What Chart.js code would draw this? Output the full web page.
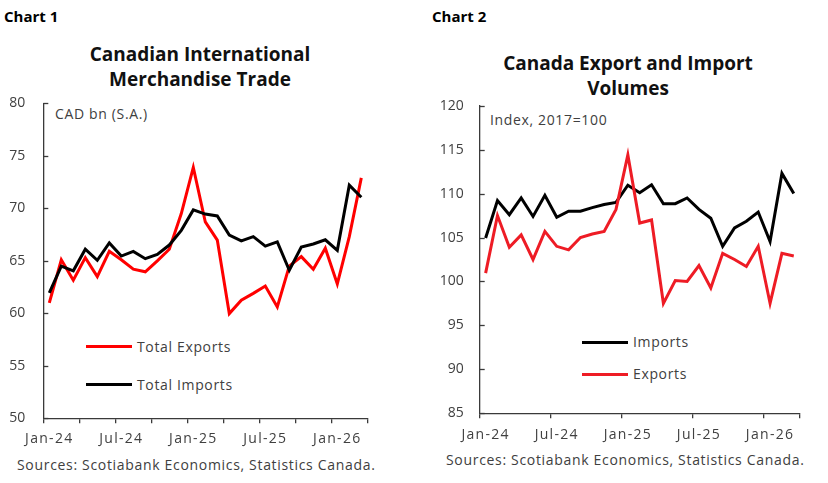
<!DOCTYPE html>
<html>
<head>
<meta charset="utf-8">
<script src="https://cdn.jsdelivr.net/npm/chart.js@4"></script>
<style>
  html, body { margin: 0; padding: 0; background: #fff; }
  body { width: 828px; height: 483px; position: relative; overflow: hidden; font-family: "Open Sans", sans-serif; }
  canvas { position: absolute; top: 0; }
  .t { position: absolute; white-space: nowrap; }
  .hdr { font-weight: bold; font-size: 15px; color: #000; height: 20px; line-height: 20px; }
  .title { font-weight: bold; font-size: 19px; color: #111; text-align: center; line-height: 25px; }
  .lbl { font-size: 14px; color: #404040; height: 18px; line-height: 18px; letter-spacing: 0.65px; }
  .src { font-size: 14px; color: #404040; height: 18px; line-height: 18px; letter-spacing: 0.68px; }
  .leg { position: absolute; height: 3px; }
</style>
</head>
<body>
<div class="t hdr" style="left:4px; top:6px;">Chart 1</div>
<div class="t hdr" style="left:432px; top:6px;">Chart 2</div>
<div class="t title" style="left:0px; width:400px; top:42px;">Canadian International<br>Merchandise Trade</div>
<div class="t title" style="left:428px; width:400px; top:51px;">Canada Export and Import<br>Volumes</div>
<div class="t lbl" style="left:55px; top:105px;">CAD bn (S.A.)</div>
<div class="t lbl" style="left:490px; top:111px;">Index, 2017=100</div>

<div class="leg" style="left:86px; width:46px; top:345px; background:#ff0000;"></div>
<div class="t lbl" style="left:137px; top:338px;">Total Exports</div>
<div class="leg" style="left:86px; width:46px; top:383px; background:#000;"></div>
<div class="t lbl" style="left:137px; top:376px;">Total Imports</div>

<div class="leg" style="left:582px; width:46px; top:341px; background:#000;"></div>
<div class="t lbl" style="left:633px; top:333px;">Imports</div>
<div class="leg" style="left:582px; width:46px; top:373px; background:#ee1c25;"></div>
<div class="t lbl" style="left:633px; top:365px;">Exports</div>

<div class="t src" style="left:17px; top:456px;">Sources: Scotiabank Economics, Statistics Canada.</div>
<div class="t src" style="left:446px; top:451px;">Sources: Scotiabank Economics, Statistics Canada.</div>

<canvas id="c1" width="414" height="483" style="left:0px;"></canvas>
<canvas id="c2" width="414" height="483" style="left:414px;"></canvas>

<script>
// ---- Data ----
const months = ["Jan-24","Feb-24","Mar-24","Apr-24","May-24","Jun-24","Jul-24","Aug-24","Sep-24","Oct-24","Nov-24","Dec-24",
                "Jan-25","Feb-25","Mar-25","Apr-25","May-25","Jun-25","Jul-25","Aug-25","Sep-25","Oct-25","Nov-25","Dec-25",
                "Jan-26","Feb-26","Mar-26"];

// Chart 1: CAD bn (S.A.)
const totalExports = [61.0, 65.1, 63.15, 65.3, 63.5, 65.9, 65.1, 64.2, 63.95, 65.0, 66.1, 69.5,
                      73.9, 68.7, 66.97, 59.97, 61.25, 61.9, 62.6, 60.6, 64.5, 65.4, 64.2, 66.2,
                      62.8, 67.3, 72.9];
const totalImports = [61.95, 64.5, 64.05, 66.1, 65.05, 66.7, 65.45, 65.9, 65.2, 65.6, 66.5, 67.9,
                      69.85, 69.45, 69.27, 67.45, 66.9, 67.3, 66.4, 66.8, 64.1, 66.3, 66.6, 67.0,
                      66.0, 72.2, 71.05];

// Chart 2: Index, 2017=100
const importVolumes = [104.95, 109.2, 107.6, 109.5, 107.4, 109.8, 107.3, 108.0, 108.0, 108.4, 108.75, 109.0,
                       110.95, 110.1, 111.0, 108.85, 108.85, 109.5, 108.2, 107.2, 104.0, 106.1, 106.85, 107.9,
                       104.55, 112.3, 110.0];
const exportVolumes = [100.95, 107.5, 103.9, 105.3, 102.5, 105.7, 104.0, 103.6, 105.0, 105.4, 105.7, 108.2,
                       114.4, 106.65, 107.0, 97.5, 100.1, 100.0, 101.8, 99.25, 103.2, 102.5, 101.7, 104.0,
                       97.5, 103.2, 102.9];

const yTicks1 = [50, 55, 60, 65, 70, 75, 80];
const yTicks2 = [85, 90, 95, 100, 105, 110, 115, 120];

// ---- Rendering ----
const AXIS = '#3a3a3a';
const FONT = { family: "'Open Sans', sans-serif", size: 14 };

const innerTicks = {
  id: 'innerTicks',
  afterDraw(chart) {
    const y = chart.scales.y, ctx = chart.ctx, left = chart.chartArea.left;
    ctx.save();
    ctx.strokeStyle = AXIS; ctx.lineWidth = 1.3;
    y.ticks.forEach(t => {
      const py = Math.round(y.getPixelForValue(t.value)) + 0.5;
      ctx.beginPath(); ctx.moveTo(left, py); ctx.lineTo(left + 5, py); ctx.stroke();
    });
    ctx.restore();
  }
};

function spacedLabels(s) {
  if (s._spaced) return;
  const orig = s.drawLabels.bind(s);
  s.drawLabels = function(ca) {
    const ctx = s.ctx;
    ctx.save();
    ctx.letterSpacing = '1.3px';
    orig(ca);
    ctx.restore();
  };
  s._spaced = true;
}

function makeChart(id, datasets, yMin, yMax, area, tickEvery, yPad, xPad) {
  const W = 414, H = 483;
  return new Chart(document.getElementById(id), {
    type: 'line',
    data: { labels: months, datasets },
    options: {
      responsive: false, animation: false,
      layout: { padding: { left: 0, top: area.top, right: W - area.right, bottom: 0 } },
      plugins: { legend: { display: false }, tooltip: { enabled: false }, title: { display: false } },
      elements: { point: { radius: 0 }, line: { borderWidth: 3, tension: 0, borderCapStyle: 'butt', borderJoinStyle: 'miter' } },
      scales: {
        x: {
          type: 'category', offset: true,
          afterFit: s => { s.height = H - area.bottom; spacedLabels(s); },
          grid: {
            offset: true, drawOnChartArea: false, drawTicks: true, tickLength: 5, lineWidth: 1.3,
            color: c => (c.index === undefined || c.index % tickEvery === 0) ? AXIS : 'rgba(0,0,0,0)'
          },
          border: { display: true, color: AXIS, width: 1.3 },
          ticks: {
            autoSkip: false, maxRotation: 0, minRotation: 0, padding: xPad, color: '#404040', font: FONT,
            callback: function(v, i) { return i % 6 === 0 ? this.getLabelForValue(v) : ''; }
          }
        },
        y: {
          min: yMin, max: yMax,
          afterFit: s => { s.width = area.left; },
          afterBuildTicks: s => { s.ticks = (yMin === 50 ? yTicks1 : yTicks2).map(v => ({ value: v })); },
          grid: { drawOnChartArea: false, drawTicks: false },
          border: { display: true, color: AXIS, width: 1.3 },
          ticks: { padding: yPad, color: '#404040', font: FONT }
        }
      }
    },
    plugins: [innerTicks]
  });
}

makeChart('c1', [
  { label: 'Total Exports', data: totalExports, borderColor: '#ff0000', order: 1 },
  { label: 'Total Imports', data: totalImports, borderColor: '#000000', order: 0 }
], 50, 80, { left: 43.3, right: 367.3, top: 103.3, bottom: 418.3 }, 3, 18, 7.5);

makeChart('c2', [
  { label: 'Imports', data: importVolumes, borderColor: '#000000', order: 1 },
  { label: 'Exports', data: exportVolumes, borderColor: '#ee1c25', order: 0 }
], 85, 120, { left: 65.7, right: 385.7, top: 105.7, bottom: 413.3 }, 6, 16, 8);
</script>
</body>
</html>
